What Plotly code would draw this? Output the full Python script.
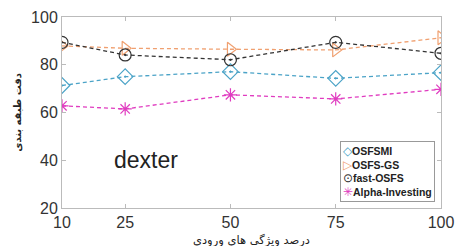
import plotly.graph_objects as go

x_vals = [10, 25, 50, 75, 100]
osfsmi = [71.3, 75.0, 77.1, 74.3, 76.7]
osfs_gs = [87.9, 86.9, 86.5, 86.2, 91.3]
fast_osfs = [89.4, 84.1, 82.1, 89.4, 84.8]
alpha_inv = [62.8, 61.5, 67.4, 65.7, 69.7]
y_ticks = [20, 40, 60, 80, 100]
series_names = ["OSFSMI", "OSFS-GS", "fast-OSFS", "Alpha-Investing"]
legend_glyphs = ["◇", "▷", "⊙", "✳"]
x_title = "درصد ویژگی های ورودی"
y_title = "دقت طبقه بندی"

colors = ["#4ba3c7", "#f0a070", "#333333", "#e03cc0"]
symbols = ["diamond-open-dot", "triangle-right-open", "circle-open-dot", "asterisk-open"]
sizes = [12, 12, 12, 11]

fig = go.Figure()
for name, ys, color, sym, size in zip(series_names, [osfsmi, osfs_gs, fast_osfs, alpha_inv], colors, symbols, sizes):
    fig.add_trace(go.Scatter(
        x=x_vals, y=ys, name=name, mode="lines+markers", showlegend=False,
        line=dict(color=color, width=1.3, dash="4px,3px"),
        marker=dict(symbol=sym, size=size, color=color, line=dict(color=color, width=1.2)),
    ))

legend_text = "<br>".join(
    f"<span style='color:{c};font-size:12px'>{g}</span><b>{n}</b>"
    for g, n, c in zip(legend_glyphs, series_names, colors)
)
fig.add_annotation(xref="paper", yref="paper", x=0.985, y=0.03, xanchor="right", yanchor="bottom",
                   text=legend_text, align="left", showarrow=False,
                   font=dict(family="Arial, Liberation Sans", size=10.5, color="#222"),
                   bordercolor="#999", borderwidth=1, borderpad=2, bgcolor="white")

fig.add_annotation(x=30, y=40, text="dexter", showarrow=False,
                   font=dict(family="Arial, Liberation Sans", size=23, color="#222"))

# axis titles
fig.add_annotation(xref="paper", yref="paper", x=0.5, y=-0.118, xanchor="center", yanchor="top",
                   text=x_title, showarrow=False,
                   font=dict(size=11.5, family="DejaVu Sans", color="#222"))
fig.add_annotation(xref="paper", yref="paper", x=-0.118, y=0.5, xanchor="center", yanchor="middle",
                   text=f"<b>{y_title}</b>", textangle=-90, showarrow=False,
                   font=dict(size=10, family="DejaVu Sans", color="#222"))

fig.update_layout(
    width=459, height=246,
    margin=dict(l=62, r=18, t=17, b=38),
    paper_bgcolor="white", plot_bgcolor="white",
    font=dict(family="Arial, Liberation Sans", color="#333"),
    showlegend=False,
)
fig.update_xaxes(range=[10, 100], tickvals=x_vals, ticktext=[str(v) for v in x_vals],
                 automargin=False,
                 showgrid=False, zeroline=False, showline=True, linecolor="#bbb",
                 mirror="ticks", ticks="inside", ticklen=4, tickcolor="#bbb",
                 tickfont=dict(size=16, color="#333"))
fig.update_yaxes(range=[20, 100], tickvals=y_ticks,
                 automargin=False,
                 showgrid=False, zeroline=False, showline=True, linecolor="#bbb",
                 mirror="ticks", ticks="inside", ticklen=4, tickcolor="#bbb",
                 tickfont=dict(size=16, color="#333"))

fig.write_html("out.html", config={"displayModeBar": False},
               post_script="document.body.style.margin='0';")
